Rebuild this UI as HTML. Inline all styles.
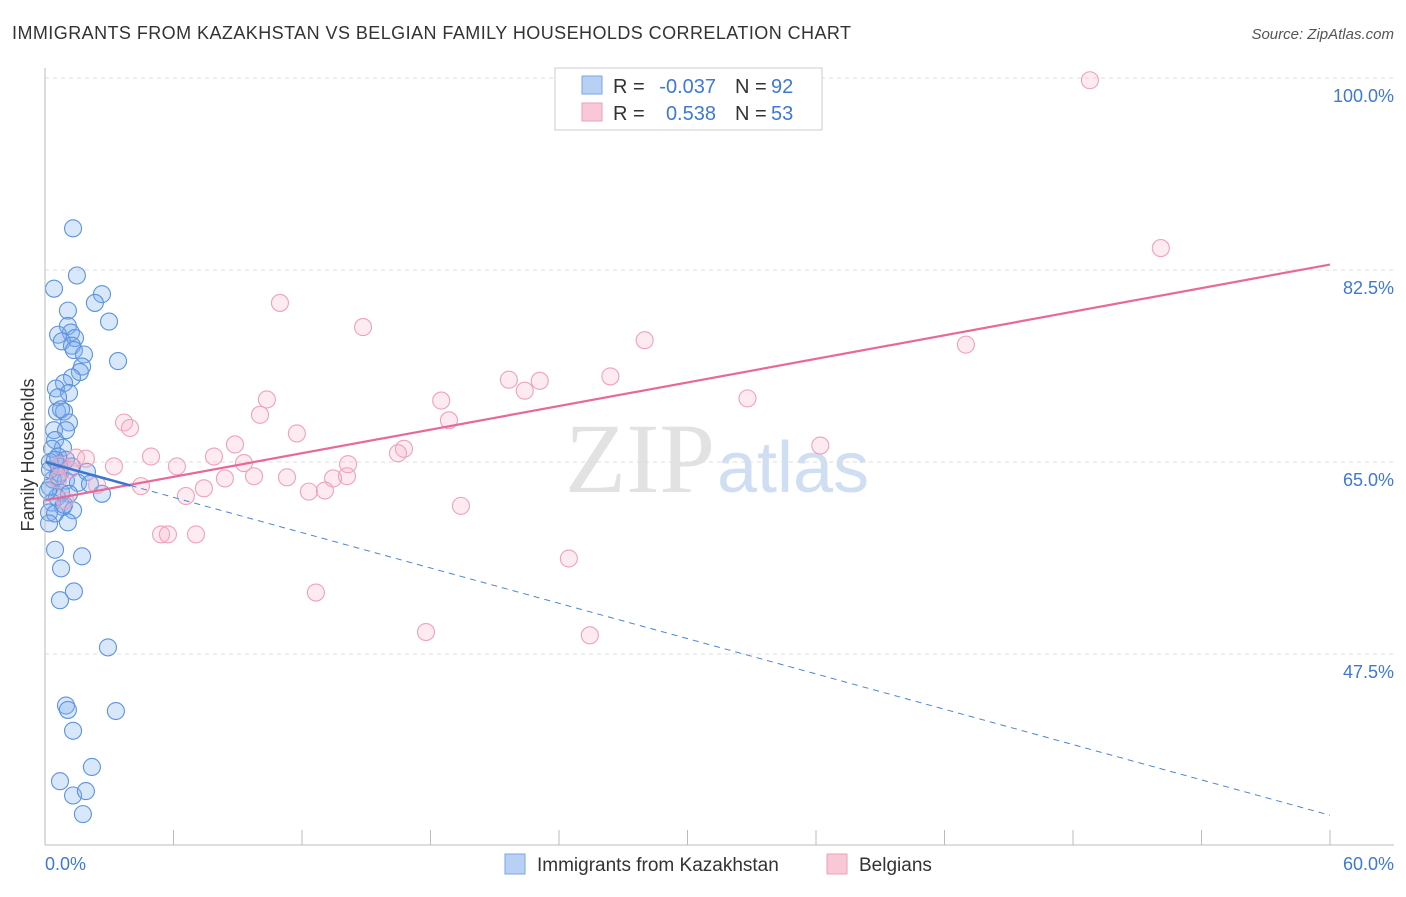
<!DOCTYPE html>
<html><head><meta charset="utf-8"><style>
body{margin:0;background:#fff;font-family:"Liberation Sans",sans-serif;}
</style></head><body>
<svg id="c" width="1406" height="892" xmlns="http://www.w3.org/2000/svg">
<text x="12" y="39" font-size="18" fill="#333" textLength="839">IMMIGRANTS FROM KAZAKHSTAN VS BELGIAN FAMILY HOUSEHOLDS CORRELATION CHART</text>
<text x="1394" y="39" font-size="15" fill="#555" font-style="italic" text-anchor="end">Source: ZipAtlas.com</text>
<text x="715" y="492" font-size="100" fill="#e2e2e2" text-anchor="end" font-family="Liberation Serif,serif">ZIP</text>
<text x="717" y="492" font-size="72" fill="#d0def4">atlas</text>
<g id="grid"></g><g id="pts"></g><g id="lines"></g>
<line x1="45" y1="68" x2="45" y2="845" stroke="#bbb"/>
<line x1="45" y1="845" x2="1394" y2="845" stroke="#bbb"/>
<text x="34" y="455" font-size="18" fill="#333" text-anchor="middle" transform="rotate(-90 34 455)">Family Households</text>
<text x="45" y="870" font-size="18" fill="#3f78d6">0.0%</text>
<text x="1394" y="870" font-size="18" fill="#3f78d6" text-anchor="end">60.0%</text>
<g>
<rect x="555" y="68" width="267" height="62" fill="#fff" stroke="#ccc"/>
<rect x="582" y="76" width="20" height="18" fill="#b8d0f4" stroke="#7aa4e4"/>
<rect x="582" y="103" width="20" height="18" fill="#f8c8d6" stroke="#eba0b8"/>
<text x="613" y="93" font-size="20" fill="#333">R =</text>
<text x="716" y="93" font-size="20" fill="#3f78d6" text-anchor="end">-0.037</text>
<text x="735" y="93" font-size="20" fill="#333">N =</text>
<text x="771" y="93" font-size="20" fill="#3f78d6">92</text>
<text x="613" y="120" font-size="20" fill="#333">R =</text>
<text x="716" y="120" font-size="20" fill="#3f78d6" text-anchor="end">0.538</text>
<text x="735" y="120" font-size="20" fill="#333">N =</text>
<text x="771" y="120" font-size="20" fill="#3f78d6">53</text>
</g>
<g>
<rect x="505" y="854" width="20" height="20" fill="#b8d0f4" stroke="#7aa4e4"/>
<text x="537" y="871" font-size="19" fill="#333">Immigrants from Kazakhstan</text>
<rect x="827" y="854" width="20" height="20" fill="#f8c8d6" stroke="#eba0b8"/>
<text x="859" y="871" font-size="19" fill="#333">Belgians</text>
</g>
</svg>
<script>
const yTicks=[47.5,65.0,82.5,100.0];
const xTickCount=10;
const blueX=[1.31,1.49,0.42,2.66,2.33,1.07,2.99,1.07,1.21,0.61,1.40,0.79,1.26,1.35,1.82,3.41,1.73,1.63,1.26,0.89,0.51,1.12,0.61,0.56,0.89,0.75,1.12,0.42,0.98,0.47,0.84,0.33,0.61,0.98,0.23,0.65,1.26,1.96,0.70,0.37,0.98,1.54,0.23,0.75,1.12,2.66,0.56,0.33,0.84,1.31,0.19,0.47,1.07,0.19,0.47,1.73,0.75,1.35,0.70,2.94,0.98,1.07,3.31,1.31,0.70,2.19,1.31,1.91,1.77,0.23,0.14,0.47,0.61,0.89,2.10];
const blueY=[86.3,82.0,80.8,80.3,79.5,78.8,77.8,77.4,76.8,76.6,76.3,76.0,75.6,75.2,74.8,74.2,73.7,73.2,72.7,72.2,71.7,71.3,70.9,69.6,69.6,69.8,68.6,67.9,67.9,67.0,66.3,66.2,65.5,65.2,65.0,64.6,64.6,64.1,64.0,63.4,63.3,63.1,62.7,62.2,62.1,62.1,61.8,61.3,60.9,60.6,60.4,60.3,59.5,59.4,57.0,56.4,55.3,53.2,52.4,48.1,42.8,42.4,42.3,40.5,35.9,37.2,34.6,35.0,32.9,64.3,62.4,65.2,63.7,61.1,63.0];
const pinkX=[48.79,52.1,10.97,14.85,28.0,43.0,21.66,23.1,26.4,22.4,18.5,32.8,10.36,10.04,3.69,3.97,18.86,11.76,8.87,16.76,16.48,36.2,4.95,7.89,1.45,1.91,6.16,9.29,3.22,14.15,8.40,9.76,11.30,14.10,13.45,4.48,7.42,2.43,6.58,12.32,13.07,19.42,5.42,5.74,7.05,24.46,12.65,17.79,25.44,0.70,1.17,0.61,0.93];
const pinkY=[99.8,84.5,79.5,77.3,76.1,75.7,72.5,72.4,72.8,71.5,70.6,70.8,70.7,69.3,68.6,68.1,68.8,67.6,66.6,66.2,65.8,66.5,65.5,65.5,65.4,65.3,64.6,64.9,64.6,64.8,63.5,63.7,63.6,63.7,63.5,62.8,62.6,62.9,61.9,62.3,62.4,61.0,58.4,58.4,58.4,56.2,53.1,49.5,49.2,64.7,64.3,63.4,61.5];
const pinkTrend=[61.5,83.0];
const blueTrend=[65.0,32.8];
const NS='http://www.w3.org/2000/svg';
const X=v=>45+v/60*1285;
const Y=v=>462-(v-65)*10.97;
function mk(t,a,p){const e=document.createElementNS(NS,t);for(const k in a)e.setAttribute(k,a[k]);document.getElementById(p).appendChild(e);return e;}
yTicks.forEach(t=>{
 const l=mk('line',{x1:45,x2:1394,y1:Y(t),y2:Y(t),stroke:'#ddd','stroke-dasharray':'4,4'},'grid');
 
 
 const tx=mk('text',{x:1394,y:Y(t)+24,'font-size':18,fill:'#3f78d6','text-anchor':'end'},'grid');
 tx.textContent=t.toFixed(1)+'%';
 
 
});
for(let i=0;i<=xTickCount;i++){
 const xv=60*i/xTickCount;
 const l=mk('line',{x1:X(xv),x2:X(xv),y1:830,y2:845,stroke:'#bbb'},'grid');
 
 
}
blueX.forEach((x,i)=>{
 const c=mk('circle',{cx:X(x),cy:Y(blueY[i]),r:8.5,fill:'rgba(130,175,240,0.3)',stroke:'#5b93e0','stroke-width':1.1},'pts');
 
 
});
pinkX.forEach((x,i)=>{
 const c=mk('circle',{cx:X(x),cy:Y(pinkY[i]),r:8.5,fill:'rgba(248,175,200,0.25)',stroke:'#f0a0bc','stroke-width':1.1},'pts');
 
 
});
const bAt=v=>blueTrend[0]+(blueTrend[1]-blueTrend[0])*v/60;
let l=mk('line',{x1:X(0),y1:Y(pinkTrend[0]),x2:X(60),y2:Y(pinkTrend[1]),stroke:'#e8689a','stroke-width':2.2},'lines');


l=mk('line',{x1:X(4),y1:Y(bAt(4)),x2:X(60),y2:Y(bAt(60)),stroke:'#4a86d8','stroke-width':1,'stroke-dasharray':'6,5'},'lines');


l=mk('line',{x1:X(0),y1:Y(bAt(0)),x2:X(4),y2:Y(bAt(4)),stroke:'#3a76d0','stroke-width':2.5},'lines');


</script>
</body></html>
